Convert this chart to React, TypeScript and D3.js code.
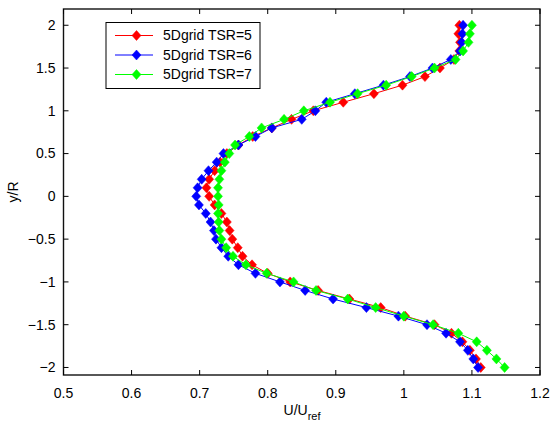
import React from "react";
import * as d3 from "d3";

const yR = [2, 1.9, 1.8, 1.7, 1.6, 1.5, 1.4, 1.3, 1.2, 1.1, 1.0, 0.9, 0.8, 0.7, 0.6, 0.5, 0.4, 0.3, 0.2, 0.1, 0,
  -0.1, -0.2, -0.3, -0.4, -0.5, -0.6, -0.7, -0.8, -0.9, -1.0, -1.1, -1.2, -1.3, -1.4, -1.5, -1.6, -1.7, -1.8, -1.9, -2.0];

const uTSR5 = [1.0815, 1.080, 1.0825, 1.0815, 1.0737, 1.053, 1.031, 0.998, 0.956, 0.911, 0.867, 0.835, 0.806, 0.778, 0.757,
  0.740, 0.730, 0.722, 0.714, 0.710, 0.714, 0.722, 0.732, 0.740, 0.744, 0.748, 0.756, 0.763, 0.777, 0.800, 0.833,
  0.874, 0.920, 0.966, 1.002, 1.045, 1.070, 1.086, 1.097, 1.106, 1.113];

const uTSR6 = [1.087, 1.086, 1.085, 1.0825, 1.069, 1.042, 1.009, 0.970, 0.928, 0.886, 0.870, 0.850, 0.806, 0.782, 0.757,
  0.735, 0.725, 0.713, 0.703, 0.697, 0.695, 0.699, 0.709, 0.716, 0.721, 0.724, 0.732, 0.742, 0.757, 0.782, 0.818,
  0.855, 0.896, 0.945, 0.992, 1.034, 1.062, 1.0825, 1.094, 1.102, 1.109];

const uTSR7 = [1.100, 1.097, 1.095, 1.087, 1.076, 1.045, 1.0115, 0.974, 0.932, 0.8915, 0.853, 0.824, 0.791, 0.773, 0.752,
  0.7436, 0.737, 0.732, 0.729, 0.727, 0.727, 0.728, 0.727, 0.728, 0.729, 0.732, 0.739, 0.749, 0.768, 0.7985, 0.838,
  0.871, 0.9175, 0.9586, 1.000, 1.043, 1.080, 1.107, 1.122, 1.136, 1.148];

const seriesNames = ["5Dgrid TSR=5", "5Dgrid TSR=6", "5Dgrid TSR=7"];
const seriesColors = ["#ff0000", "#0000ff", "#00ff00"];
const xTicks = [0.5, 0.6, 0.7, 0.8, 0.9, 1, 1.1, 1.2];
const yTicks = [-2, -1.5, -1, -0.5, 0, 0.5, 1, 1.5, 2];

const W = 550, H = 429;
const L = 63.5, R = 540, T = 9, B = 375;
const FONT = "'Liberation Sans', Arial, Helvetica, sans-serif";

export default function App() {
  const x = d3.scaleLinear().domain([0.5, 1.2]).range([L, R]);
  const y = d3.scaleLinear().domain([-2.088, 2.19]).range([B, T]);
  const series = [uTSR5, uTSR6, uTSR7];
  const line = d3.line<[number, number]>().x(d => x(d[0])).y(d => y(d[1]));
  const diamond = (cx: number, cy: number, rx = 4.5, ry = 5) =>
    `M${cx},${cy - ry}L${cx + rx},${cy}L${cx},${cy + ry}L${cx - rx},${cy}Z`;
  const fmt = (v: number) => (v < 0 ? "\u2212" + Math.abs(v) : String(v));
  const tl = 5;
  const legRows = [35.5, 55, 74.5];
  const fs = 14;

  return (
    <svg width={W} height={H} style={{ position: "absolute", left: 0, top: 0, background: "#fff" }}
      fontFamily={FONT}>
      <rect x={0} y={0} width={W} height={H} fill="#fff" />
      {series.map((s, i) => {
        const pts: [number, number][] = s.map((u, j) => [u, yR[j]]);
        return (
          <g key={i}>
            <path d={line(pts) || ""} fill="none" stroke={seriesColors[i]} strokeWidth={1} />
            {pts.map((p, j) => (
              <path key={j} d={diamond(x(p[0]), y(p[1]))} fill={seriesColors[i]} stroke={seriesColors[i]} strokeWidth={0.5} />
            ))}
          </g>
        );
      })}
      <rect x={L} y={T} width={R - L} height={B - T} fill="none" stroke="#111" strokeWidth={1.4} />
      {xTicks.map(t => (
        <g key={"x" + t}>
          <line x1={x(t)} x2={x(t)} y1={B} y2={B - tl} stroke="#000" />
          <line x1={x(t)} x2={x(t)} y1={T} y2={T + tl} stroke="#000" />
          <text x={x(t)} y={398} textAnchor="middle" fontSize={fs}>{fmt(t)}</text>
        </g>
      ))}
      {yTicks.map(t => (
        <g key={"y" + t}>
          <line x1={L} x2={L + tl} y1={y(t)} y2={y(t)} stroke="#000" />
          <line x1={R} x2={R - tl} y1={y(t)} y2={y(t)} stroke="#000" />
          <text x={55.5} y={y(t)} dy="0.35em" textAnchor="end" fontSize={fs}>{fmt(t)}</text>
        </g>
      ))}
      <text x={302} y={415} textAnchor="middle" fontSize={fs}>
        U/U<tspan fontSize={11} dy={5}>ref</tspan>
      </text>
      <text transform={`translate(18,${(T + B) / 2}) rotate(-90)`} textAnchor="middle" fontSize={fs}>y/R</text>
      <rect x={106} y={22.5} width={154} height={66} fill="#fff" stroke="#000" strokeWidth={1} />
      {seriesNames.map((n, i) => (
        <g key={n}>
          <line x1={115} x2={153} y1={legRows[i]} y2={legRows[i]} stroke={seriesColors[i]} strokeWidth={1} />
          <path d={diamond(136.5, legRows[i])} fill={seriesColors[i]} stroke={seriesColors[i]} strokeWidth={0.5} />
          <text x={163} y={legRows[i]} dy="0.35em" fontSize={fs}>{n}</text>
        </g>
      ))}
    </svg>
  );
}
